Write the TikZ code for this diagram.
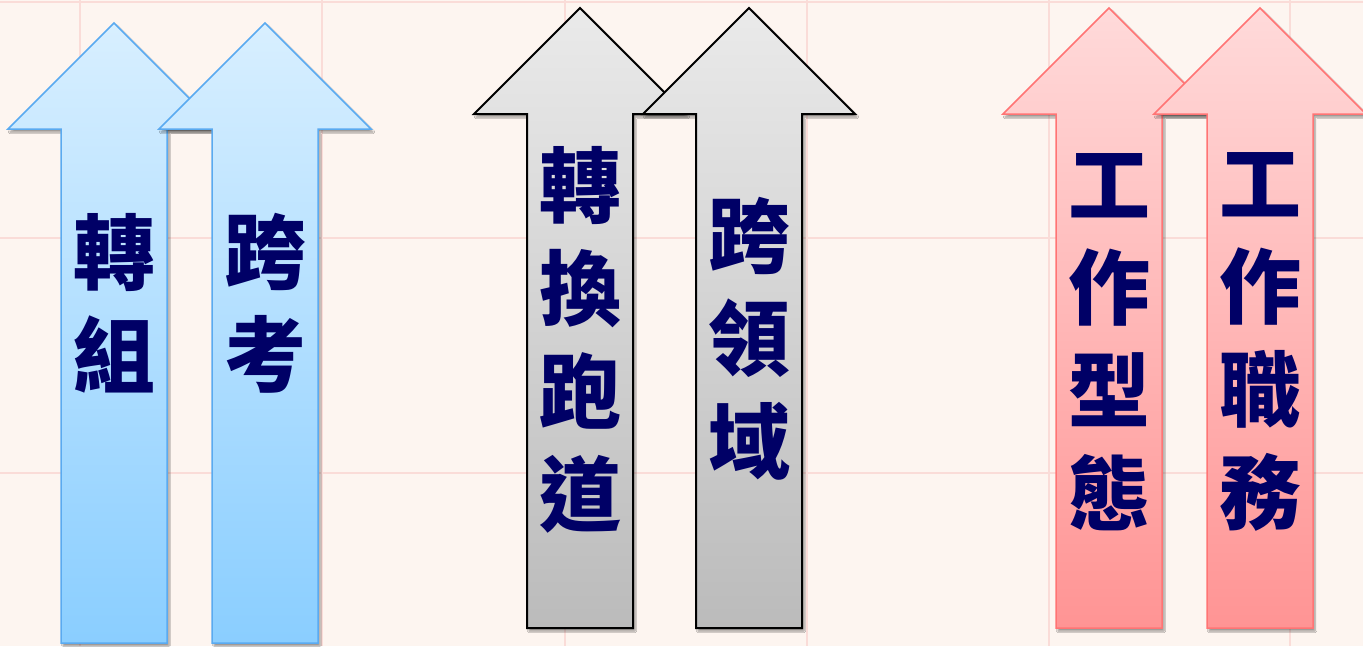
\documentclass[tikz,border=0pt]{standalone}
\usepackage{fontspec}
\newfontfamily\cjk{Noto Sans CJK TC}
\usetikzlibrary{shadows.blur}
\definecolor{bgc}{HTML}{FDF5F0}
\definecolor{gridc}{HTML}{FADCD8}
\definecolor{navy}{HTML}{000066}
\definecolor{bluestroke}{HTML}{5AAAF0}
\definecolor{bluetop}{HTML}{D8EFFF}
\definecolor{bluebot}{HTML}{8ACEFF}
\definecolor{graytop}{HTML}{EAEAEA}
\definecolor{graybot}{HTML}{BBBBBB}
\definecolor{pinkstroke}{HTML}{FF7474}
\definecolor{pinktop}{HTML}{FFDADA}
\definecolor{pinkbot}{HTML}{FF9494}
\newcommand\myarrow[4]{%
  \path[#1] (#2,#3) -- ++(106,106) -- ++(-53,0) -- (#2+53,#4) -- (#2-53,#4)
    -- (#2-53,#3+106) -- (#2-106,#3+106) -- cycle;}
\begin{document}
\begin{tikzpicture}[x=1pt,y=-1pt,
  shade/.style={blur shadow={shadow xshift=2pt, shadow yshift=-3pt, shadow opacity=40, shadow blur steps=6}},
  bluearrow/.style={shade, draw=bluestroke, line width=1.5pt, top color=bluetop, bottom color=bluebot},
  grayarrow/.style={shade, draw=black, line width=2pt, top color=graytop, bottom color=graybot},
  pinkarrow/.style={shade, draw=pinkstroke, line width=1.5pt, top color=pinktop, bottom color=pinkbot},
  lbl/.style={font=\cjk\bfseries\fontsize{82}{103}\selectfont, text=navy, align=center, inner sep=0pt},
  gridline/.style={draw=gridc, line width=1.5pt}]
\useasboundingbox (0,0) rectangle (1363,646);
\fill[bgc] (0,0) rectangle (1363,646);
\foreach \gx in {80,322,565,807,1049,1290} \draw[gridline] (\gx,0) -- (\gx,646);
\foreach \gy in {2,238,473} \draw[gridline] (0,\gy) -- (1363,\gy);
% blue pair
\myarrow{bluearrow}{114}{23}{643}
\myarrow{bluearrow}{265}{23}{643}
\node[lbl] (t1) at (114,303) {轉\\組};
\node[lbl] (t2) at (265,303) {跨\\考};
% gray pair
\myarrow{grayarrow}{580}{8}{628}
\myarrow{grayarrow}{749}{8}{628}
\node[lbl] (t3) at (580,340) {轉\\換\\跑\\道};
\node[lbl] (t4) at (749,339) {跨\\領\\域};
% pink pair
\myarrow{pinkarrow}{1109}{8}{628}
\myarrow{pinkarrow}{1260}{8}{628}
\node[lbl] (t5) at (1109,342) {工\\作\\型\\態};
\node[lbl] (t6) at (1260,342) {工\\作\\職\\務};
\end{tikzpicture}
\end{document}
